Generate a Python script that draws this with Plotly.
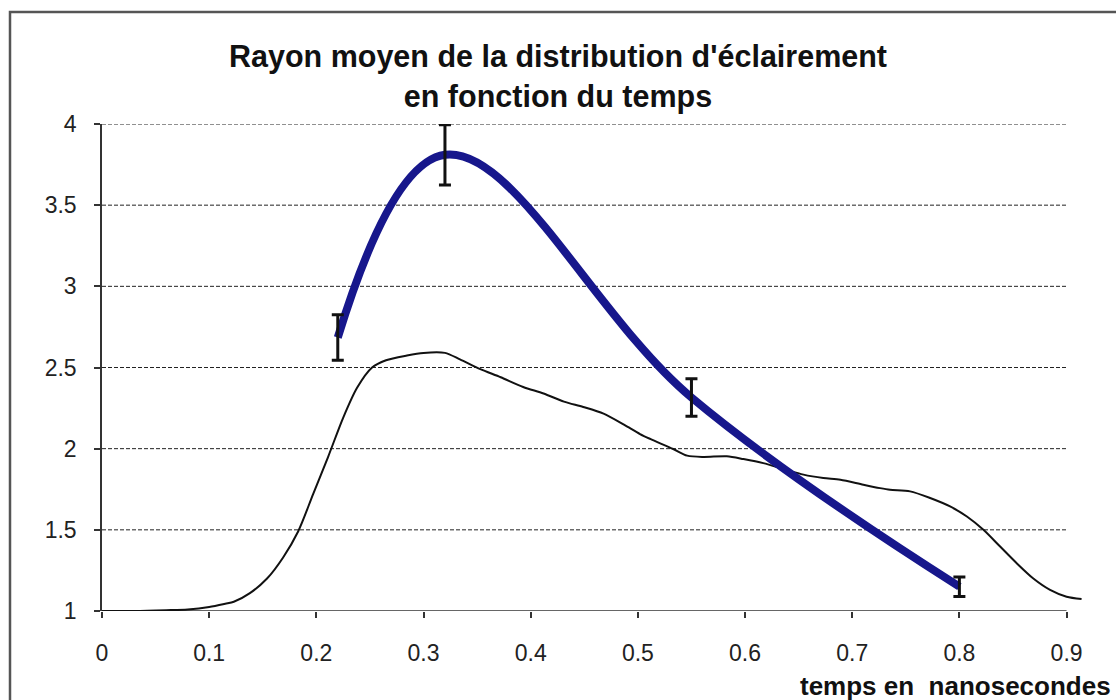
import plotly.graph_objects as go

# Simulated mean radius of the illumination distribution (black curve)
temps_courbe = [0.0, 0.03, 0.06, 0.08, 0.10, 0.115, 0.123, 0.138, 0.154, 0.169,
                0.183, 0.197, 0.211, 0.225, 0.238, 0.252, 0.265, 0.2845, 0.300, 0.320,
                0.334, 0.353, 0.372, 0.393, 0.412, 0.431, 0.449, 0.468, 0.487,
                0.502, 0.5115, 0.533, 0.546, 0.561, 0.583, 0.5985, 0.617, 0.636, 0.6545,
                0.673, 0.689, 0.7104, 0.726, 0.7353, 0.754, 0.7727, 0.7913, 0.807, 0.8224,
                0.838, 0.8535, 0.869, 0.8846, 0.900, 0.914]
rayon_courbe = [1.0, 1.0, 1.005, 1.01, 1.025, 1.045, 1.057, 1.11, 1.20, 1.33,
                1.49, 1.72, 1.95, 2.19, 2.375, 2.50, 2.545, 2.574, 2.59, 2.59,
                2.55, 2.49, 2.44, 2.38, 2.34, 2.29, 2.257, 2.216, 2.148,
                2.09, 2.06, 1.998, 1.957, 1.949, 1.953, 1.936, 1.911, 1.875, 1.84,
                1.819, 1.809, 1.778, 1.757, 1.747, 1.737, 1.696, 1.644, 1.582, 1.50,
                1.397, 1.294, 1.20, 1.13, 1.088, 1.074]

# Measured mean radius with uncertainties (blue curve)
temps_mesure = [0.22, 0.32, 0.55, 0.80]
rayon_mesure = [2.685, 3.81, 2.315, 1.15]
erreur_mesure = [0.14, 0.185, 0.115, 0.06]

x_ticks = [0, 0.1, 0.2, 0.3, 0.4, 0.5, 0.6, 0.7, 0.8, 0.9]
x_tick_labels = ["0", "0.1", "0.2", "0.3", "0.4", "0.5", "0.6", "0.7", "0.8", "0.9"]
y_ticks = [1, 1.5, 2, 2.5, 3, 3.5, 4]
y_tick_labels = ["1", "1.5", "2", "2.5", "3", "3.5", "4"]
grid_levels = [1.5, 2, 2.5, 3, 3.5, 4]

FONT = "Liberation Sans, Arial, sans-serif"
W, H = 1116, 700
L, R, T, B = 102, 28, 124, 89
PW, PH = W - L - R, H - T - B


def px_x(px):
    return (px - L) / PW


def px_y(py):
    return (H - B - py) / PH


fig = go.Figure()

fig.add_trace(go.Scatter(
    x=temps_courbe, y=rayon_courbe, mode="lines",
    line=dict(color="#111111", width=2, shape="spline", smoothing=0.8),
    hoverinfo="skip", showlegend=False,
))

fig.add_trace(go.Scatter(
    x=temps_mesure, y=rayon_mesure, mode="lines",
    line=dict(color="#17178c", width=8, shape="spline", smoothing=1.1),
    showlegend=False,
))

fig.add_trace(go.Scatter(
    x=temps_mesure, y=rayon_mesure, mode="markers",
    marker=dict(size=1, opacity=0),
    error_y=dict(type="data", array=erreur_mesure, visible=True,
                 color="#111111", thickness=3, width=6),
    showlegend=False,
))

shapes = []
for g in grid_levels:
    shapes.append(dict(type="line", xref="x", yref="y", x0=0, x1=0.9, y0=g, y1=g,
                       line=dict(color="#222222", width=1, dash="4px,2px"), layer="below"))
shapes.append(dict(type="line", xref="x", yref="y", x0=0, x1=0.9, y0=1, y1=1,
                   line=dict(color="#333333", width=1.5), layer="below"))
shapes.append(dict(type="rect", xref="paper", yref="paper",
                   x0=px_x(10), x1=px_x(1140), y0=px_y(730), y1=px_y(12),
                   line=dict(color="#555555", width=2.5), fillcolor="rgba(0,0,0,0)"))

fig.update_layout(
    width=W, height=H,
    margin=dict(l=L, r=R, t=T, b=B, pad=0),
    paper_bgcolor="white", plot_bgcolor="white",
    font=dict(family=FONT, color="#222222"),
    title=dict(
        text="<b>Rayon moyen de la distribution d'éclairement<br>en fonction du temps</b>",
        x=0.5, xanchor="center", xref="container", y=1 - 67 / H, yanchor="top", yref="container",
        font=dict(family=FONT, size=30.5, color="#111111"),
    ),
    xaxis=dict(range=[0, 0.92], tickvals=x_ticks, ticktext=x_tick_labels,
               showline=False, showgrid=False, zeroline=False,
               ticks="outside", ticklen=6, tickwidth=1.5, tickcolor="#333333",
               ticklabelstandoff=15,
               tickfont=dict(family=FONT, size=23, color="#222222"), fixedrange=True),
    yaxis=dict(range=[1, 4], tickvals=y_ticks, ticktext=y_tick_labels,
               showline=True, linecolor="#333333", linewidth=1.5,
               showgrid=False, zeroline=False,
               ticks="outside", ticklen=6, tickwidth=1.5, tickcolor="#333333",
               ticklabelstandoff=13,
               tickfont=dict(family=FONT, size=23, color="#222222"), fixedrange=True),
    shapes=shapes,
    annotations=[dict(
        text="<b>temps en \u00a0nanosecondes</b>", xref="paper", yref="paper",
        x=px_x(1113), y=px_y(686), xanchor="right", yanchor="middle", showarrow=False,
        font=dict(family=FONT, size=26, color="#111111"),
    )],
)

fig.write_html("out.html")
